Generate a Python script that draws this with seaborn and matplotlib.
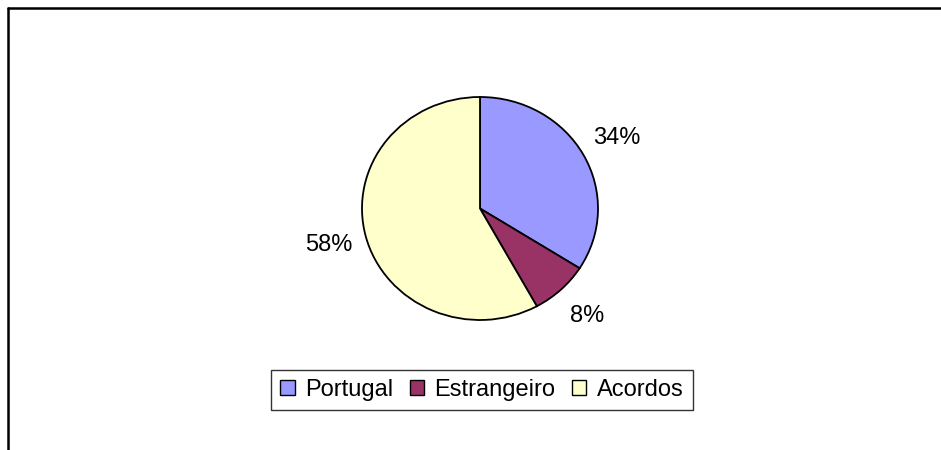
import matplotlib
matplotlib.use("Agg")
import matplotlib.pyplot as plt
from matplotlib.lines import Line2D
from matplotlib.patches import Patch
import seaborn as sns

categories = ["Portugal", "Estrangeiro", "Acordos"]
values = [34, 8, 58]
colors = ["#9999FF", "#993366", "#FFFFCC"]

sns.set_theme(style="white")
plt.rcParams['font.family'] = ['Liberation Sans', 'DejaVu Sans']
plt.rcParams['text.color'] = 'black'

W, H = 941, 450
fig = plt.figure(figsize=(W / 100, H / 100), dpi=100)
fig.patch.set_facecolor("white")

cx, cy, rx, ry = 480, 208.5, 118, 111.5
ax = fig.add_axes([(cx - rx) / W, (H - cy - ry) / H, 2 * rx / W, 2 * ry / H])
wedges, texts, autotexts = ax.pie(
    values, colors=colors, startangle=90, counterclock=False,
    autopct=lambda p: f"{p:.0f}%", pctdistance=1.32,
    wedgeprops=dict(edgecolor="black", linewidth=1.3),
    textprops=dict(fontsize=17, color="black"),
)
ax.set_aspect("auto")
ax.set_xlim(-1, 1)
ax.set_ylim(-1, 1)
ax.axis("off")

handles = [Patch(facecolor=c, edgecolor="black", linewidth=1) for c in colors]
leg = fig.legend(handles, categories, ncol=3, loc="center",
                 bbox_to_anchor=(482 / W, 1 - 390 / H), frameon=True,
                 fancybox=False, fontsize=17, handlelength=0.6, handleheight=0.6,
                 handletextpad=0.45, columnspacing=0.7, borderpad=0.4,
                 edgecolor="black", borderaxespad=0, labelcolor="black")
leg.get_frame().set_linewidth(1.0)

# outer chart frame (only top and left edges visible)
fig.add_artist(Line2D([8 / W, 1], [1 - 8 / H, 1 - 8 / H], transform=fig.transFigure,
                      color="black", linewidth=1.8))
fig.add_artist(Line2D([8 / W, 8 / W], [0, 1 - 8 / H], transform=fig.transFigure,
                      color="black", linewidth=1.8))

fig.savefig("out.png", dpi=100, facecolor="white")
